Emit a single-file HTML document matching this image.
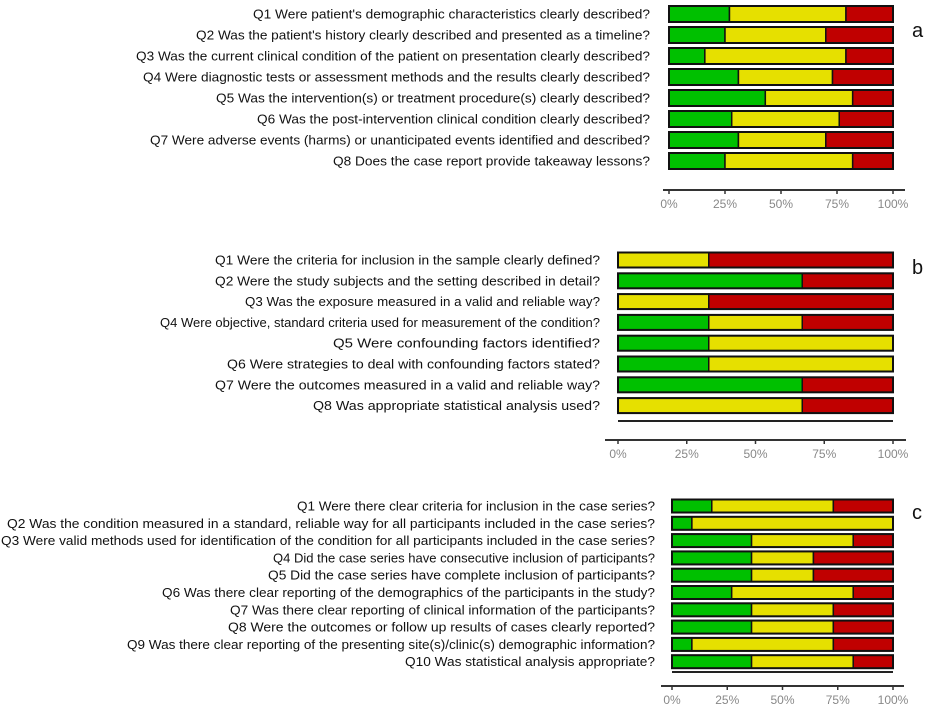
<!DOCTYPE html>
<html><head><meta charset="utf-8"><style>
html,body{margin:0;padding:0;background:#fff;}
svg{display:block;font-family:"Liberation Sans",sans-serif;}
.l{font-size:13px;fill:#111;text-anchor:end;}
.t{font-size:12px;fill:#888;text-anchor:middle;}
.p{font-size:20px;fill:#111;}
</style></head><body>
<svg width="935" height="725" viewBox="0 0 935 725" xmlns="http://www.w3.org/2000/svg">
<g id="g"></g>
<text class="p" x="912" y="37">a</text>
<text class="p" x="912" y="274">b</text>
<text class="p" x="912" y="519">c</text>
</svg>
<script>
const NS="http://www.w3.org/2000/svg";const g=document.getElementById('g');
function el(t,a,txt){const e=document.createElementNS(NS,t);for(const k in a)e.setAttribute(k,a[k]);if(txt)e.textContent=txt;g.appendChild(e);return e;}
function panel(o){
 const W=o.x1-o.x0;
 o.rows.forEach((r,i)=>{
  const cy=o.y0+i*o.dy, y=cy-o.h/2;
  const cuts=[0,r[1],r[2],100];const cols=['#00c000','#e6e000','#c00000'];
  for(let k=0;k<3;k++){ if(cuts[k+1]>cuts[k]) el('rect',{x:o.x0+W*cuts[k]/100,y:y,width:W*(cuts[k+1]-cuts[k])/100,height:o.h,fill:cols[k],stroke:'#111','stroke-width':1.5});}
  el('rect',{x:o.x0,y:y,width:W,height:o.h,fill:'none',stroke:'#111','stroke-width':2});
  const t=el('text',{class:'l',x:o.lx,y:cy+4.5},r[0]);
  t.setAttribute('textLength',o.lx-r[3]);t.setAttribute('lengthAdjust','spacingAndGlyphs');
 });
 if(o.ul) el('line',{x1:o.x0,x2:o.x1,y1:o.ul,y2:o.ul,stroke:'#222','stroke-width':2});
 el('line',{x1:o.ax0,x2:o.ax1,y1:o.ay,y2:o.ay,stroke:'#333','stroke-width':2});
 [0,25,50,75,100].forEach(v=>{const x=o.x0+W*v/100;el('line',{x1:x,x2:x,y1:o.ay,y2:o.ay+4,stroke:'#333','stroke-width':1.5});el('text',{class:'t',x:x,y:o.ay+18},v+'%');});
}
panel({x0:669,x1:893,y0:14,dy:21,h:16,lx:650,ax0:663,ax1:905,ay:190,rows:[
["Q1  Were patient's demographic characteristics clearly described?",27,79,253],
["Q2  Was the patient's history clearly described and presented as a timeline?",25,70,196],
["Q3  Was the current clinical condition of the patient on presentation clearly described?",16,79,136],
["Q4  Were diagnostic tests or assessment methods and the results clearly described?",31,73,143],
["Q5  Was the intervention(s) or treatment procedure(s) clearly described?",43,82,216],
["Q6  Was the post-intervention clinical condition clearly described?",28,76,257],
["Q7  Were adverse events (harms) or unanticipated events identified and described?",31,70,150],
["Q8  Does the case report provide takeaway lessons?",25,82,333]]});
panel({x0:618,x1:893,y0:260,dy:20.8,h:15,lx:600,ax0:605,ax1:906,ay:440,ul:421,rows:[
["Q1  Were the criteria for inclusion in the sample clearly defined?",0,33,215],
["Q2  Were the study subjects and the setting described in detail?",67,67,215],
["Q3  Was the exposure measured in a valid and reliable way?",0,33,245],
["Q4  Were objective, standard criteria used for measurement of the condition?",33,67,160],
["Q5  Were confounding factors identified?",33,100,333],
["Q6  Were strategies to deal with confounding factors stated?",33,100,227],
["Q7  Were the outcomes measured in a valid and reliable way?",67,67,215],
["Q8  Was appropriate statistical analysis used?",0,67,313]]});
panel({x0:672,x1:893,y0:506,dy:17.3,h:13,lx:655,ax0:661,ax1:904,ay:686,ul:672,rows:[
["Q1  Were there clear criteria for inclusion in the case series?",18,73,297],
["Q2  Was the condition measured in a standard, reliable way for all participants included in the case series?",9,100,7],
["Q3  Were valid methods used for identification of the condition for all participants included in the case series?",36,82,1],
["Q4  Did the case series have consecutive inclusion of participants?",36,64,273],
["Q5  Did the case series have complete inclusion of participants?",36,64,268],
["Q6  Was there clear reporting of the demographics of the participants in the study?",27,82,162],
["Q7  Was there clear reporting of clinical information of the participants?",36,73,230],
["Q8  Were the outcomes or follow up results of cases clearly reported?",36,73,228],
["Q9  Was there clear reporting of the presenting site(s)/clinic(s) demographic information?",9,73,127],
["Q10  Was statistical analysis appropriate?",36,82,405]]});
</script>
</body></html>
